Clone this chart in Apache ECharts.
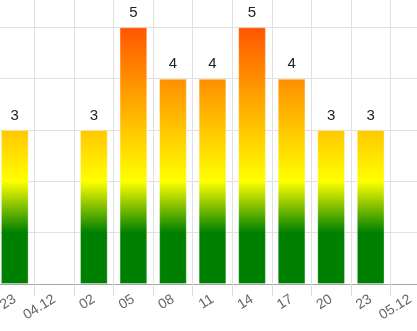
<!DOCTYPE html>
<html>
<head>
<meta charset="utf-8">
<script src="https://cdn.jsdelivr.net/npm/echarts@6/dist/echarts.min.js"></script>
<style>
html,body{margin:0;padding:0;background:#fff;width:417px;height:331px;overflow:hidden;position:relative;}
#c{position:absolute;left:-5px;top:-24px;width:435px;height:355px;}
</style>
</head>
<body>
<div id="c"></div>
<script>
var categories = ['23', '04.12', '02', '05', '08', '11', '14', '17', '20', '23 ', '05.12'];
var values = [3, null, 3, 5, 4, 4, 5, 4, 3, 3, null];
var yTicks = [0, 1, 2, 3, 4, 5, 6];

var chart = echarts.init(document.getElementById('c'), null, {renderer: 'canvas'});

function makeGradient(yTop, yBottom) {
  return new echarts.graphic.LinearGradient(0, yTop, 0, yBottom, [
    {offset: 0, color: '#ff5500'},
    {offset: 0.6, color: '#ffff00'},
    {offset: 0.8, color: '#008000'},
    {offset: 1, color: '#008000'}
  ], true);
}

var option = {
  animation: false,
  grid: {left: 0, right: 0, top: 0, bottom: 47, containLabel: false},
  xAxis: {
    type: 'category',
    data: categories,
    boundaryGap: true,
    axisLine: {show: true, lineStyle: {color: '#a6a6a6', width: 1}},
    axisTick: {show: true, interval: 0, length: 12, lineStyle: {color: '#dcdcdc'}},
    splitLine: {show: true, interval: 0, lineStyle: {color: '#e0e0e0'}},
    axisLabel: {
      interval: 0, rotate: 32, margin: 14,
      color: '#666', fontSize: 14, fontFamily: 'Liberation Sans, Arial, sans-serif',
      formatter: function (v) { return v.trim(); }
    }
  },
  yAxis: {
    type: 'value',
    min: yTicks[0], max: yTicks[yTicks.length - 1], interval: 1,
    axisLine: {show: false},
    axisTick: {show: false},
    axisLabel: {show: false},
    splitLine: {show: true, lineStyle: {color: '#e0e0e0'}}
  },
  series: [{
    type: 'bar',
    data: values,
    barWidth: '70%',
    itemStyle: {color: '#008000', borderColor: 'rgba(255,255,255,0.3)', borderWidth: 1},
    label: {
      show: true, position: 'top', distance: 7,
      color: '#222', fontSize: 15, fontFamily: 'Liberation Sans, Arial, sans-serif'
    }
  }]
};
chart.setOption(option);

var yTopPx = chart.convertToPixel({yAxisIndex: 0}, 5);
var yBotPx = chart.convertToPixel({yAxisIndex: 0}, 0);
chart.setOption({series: [{itemStyle: {color: makeGradient(yTopPx, yBotPx)}}]});
</script>
</body>
</html>
